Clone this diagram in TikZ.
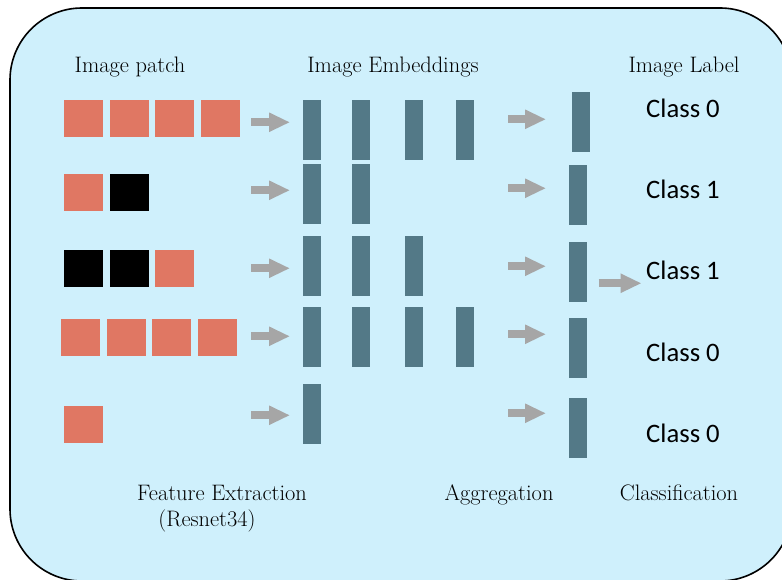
\documentclass[tikz,border=0pt]{standalone}
\usepackage{fontspec}
\newfontfamily\clsfont{Carlito}
\usepackage{xcolor}
\usepackage{tikz}
\usetikzlibrary{positioning,arrows.meta}

\definecolor{bgblue}{RGB}{207,240,252}
\definecolor{patchred}{RGB}{224,119,99}
\definecolor{embblue}{RGB}{83,121,135}
\definecolor{flowgray}{RGB}{166,166,166}

\begin{document}
\begin{tikzpicture}[
  x=0.75pt, y=-0.75pt,
  patch/.style={fill=patchred,minimum width=29.25pt,minimum height=27.75pt,inner sep=0pt},
  blank/.style={patch,fill=black},
  emb/.style={fill=embblue,minimum width=13.5pt,minimum height=45pt,inner sep=0pt,anchor=north west},
  flow/.style={draw=flowgray,line width=6pt,-{Triangle[width=13.5pt,length=15.75pt]}},
  head/.style={font=\fontsize{16.8}{20}\selectfont,anchor=base},
  cls/.style={font=\clsfont\fontsize{20}{24}\selectfont,anchor=base}
    ]

\clip (0,0) rectangle (782,580);
\draw[line width=1.2pt,fill=bgblue,rounded corners=54pt] (10,8) rectangle (792,581);

% headings
\node[head] (hp) at (130,73) {Image patch};
\node[head] (he) at (393,73) {Image Embeddings};
\node[head] (hl) at (684,73) {Image Label};
\node[head] (fe) at (222,501) {Feature Extraction};
\node[head] (rn) at (207,527) {(Resnet34)};
\node[head] (ag) at (499,501) {Aggregation};
\node[head] (cf) at (679,501) {Classification};

% image patches
\node[patch,anchor=north west] (p11) at (64,100) {};
\node[patch,right=4.5pt of p11] (p12) {};
\node[patch,right=4.5pt of p12] (p13) {};
\node[patch,right=4.5pt of p13] (p14) {};

\node[patch,anchor=north west] (p21) at (64,174) {};
\node[blank,right=4.5pt of p21] (p22) {};

\node[blank,anchor=north west] (p31) at (64,250) {};
\node[blank,right=4.5pt of p31] (p32) {};
\node[patch,right=4.5pt of p32] (p33) {};

\node[patch,anchor=north west] (p41) at (61,319) {};
\node[patch,right=4.5pt of p41] (p42) {};
\node[patch,right=4.5pt of p42] (p43) {};
\node[patch,right=4.5pt of p43] (p44) {};

\node[patch,anchor=north west] (p51) at (64,406) {};

% embeddings
\foreach \x [count=\c] in {303,352,405,456}
  \node[emb] (e1\c) at (\x,100) {};
\foreach \x [count=\c] in {303,352}
  \node[emb] (e2\c) at (\x,164) {};
\foreach \x [count=\c] in {303,352,405}
  \node[emb] (e3\c) at (\x,236) {};
\foreach \x [count=\c] in {303,352,405,456}
  \node[emb] (e4\c) at (\x,307) {};
\node[emb] (e51) at (303,384) {};

% aggregated
\node[emb] (a1) at (572,92) {};
\node[emb] (a2) at (569,165) {};
\node[emb] (a3) at (569,242) {};
\node[emb] (a4) at (569,318) {};
\node[emb] (a5) at (569,398) {};

% labels
\node[cls] (c1) at (683,118) {Class 0};
\node[cls] (c2) at (683,199) {Class 1};
\node[cls] (c3) at (683,280) {Class 1};
\node[cls] (c4) at (683,362) {Class 0};
\node[cls] (c5) at (683,443) {Class 0};

% arrows
\foreach \r/\da/\db in {1/6pt/8.25pt,2/3pt/4.5pt,3/-1.5pt/0pt,4/0.75pt/2.25pt,5/-0.75pt/0.75pt}{
  \draw[flow] ([shift={(-39pt,\da)}]e\r1.west) -- ([shift={(-9.75pt,\da)}]e\r1.west);
  \draw[flow] ([shift={(153.75pt,\db)}]e\r1.west) -- ([shift={(182.25pt,\db)}]e\r1.west);
}
\draw[flow] ([shift={(8.25pt,-8.25pt)}]a3.east) -- ([yshift=-8.25pt]a3.east -| c3.west);
\end{tikzpicture}
\end{document}
